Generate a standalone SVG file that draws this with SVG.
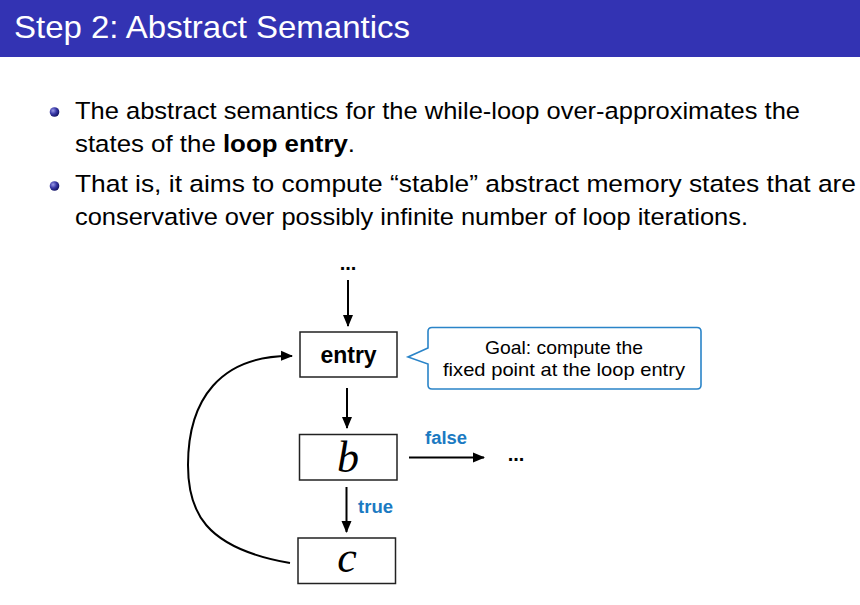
<svg xmlns="http://www.w3.org/2000/svg" width="860" height="605" viewBox="0 0 860 605">
<defs>
<marker id="ah" markerUnits="userSpaceOnUse" markerWidth="12" markerHeight="12" viewBox="0 0 12 12" refX="11" refY="6" orient="auto">
<path d="M0,1 L12,6 L0,11 Z" fill="#000"/>
</marker>
<radialGradient id="ball" cx="0.35" cy="0.35" r="0.7">
<stop offset="0" stop-color="#9a9ae8"/>
<stop offset="0.5" stop-color="#3a3aa8"/>
<stop offset="1" stop-color="#101060"/>
</radialGradient>
</defs>
<style>
.body{font-family:"Liberation Sans",Arial,sans-serif;font-size:24.5px;fill:#000}
.box{fill:#fff;stroke:#222;stroke-width:1.5}
.conn{stroke:#000;stroke-width:2;fill:none}
.lab{font-family:"Liberation Sans",Arial,sans-serif;font-size:18px;font-weight:bold;fill:#1b7ac2}
.math{font-family:"Liberation Serif","Times New Roman",serif;font-style:italic;font-size:44px;fill:#000}
.dots{font-family:"Liberation Sans",Arial,sans-serif;font-size:20px;font-weight:bold;fill:#000}
.note{font-family:"Liberation Sans",Arial,sans-serif;font-size:19px;fill:#000}
</style>
<rect x="0" y="0" width="860" height="57" fill="#3333b3"/>
<text x="14" y="38" font-family="Liberation Sans,Arial,sans-serif" font-size="32" fill="#fff" textLength="396" lengthAdjust="spacingAndGlyphs">Step 2: Abstract Semantics</text>
<circle cx="54.5" cy="112" r="4.8" fill="url(#ball)"/>
<circle cx="54.5" cy="186" r="4.8" fill="url(#ball)"/>
<text class="body" x="75" y="119" textLength="725" lengthAdjust="spacingAndGlyphs">The abstract semantics for the while-loop over-approximates the</text>
<text class="body" x="75" y="152" textLength="280" lengthAdjust="spacingAndGlyphs">states of the <tspan font-weight="bold">loop entry</tspan>.</text>
<text class="body" x="75" y="192" textLength="781" lengthAdjust="spacingAndGlyphs">That is, it aims to compute “stable” abstract memory states that are</text>
<text class="body" x="75" y="225" textLength="673" lengthAdjust="spacingAndGlyphs">conservative over possibly infinite number of loop iterations.</text>
<g id="connectors">
<line class="conn" x1="348" y1="280" x2="348" y2="326" marker-end="url(#ah)"/>
<line class="conn" x1="347" y1="388" x2="347" y2="428" marker-end="url(#ah)"/>
<line class="conn" x1="346.5" y1="487" x2="346.5" y2="532" marker-end="url(#ah)"/>
<line class="conn" x1="409" y1="457.5" x2="484" y2="457.5" marker-end="url(#ah)"/>
<path class="conn" d="M290,563 C203,548 188,510 188,465 C188,400 220,355 292,356" marker-end="url(#ah)"/>
<text class="lab" x="425" y="444" textLength="42" lengthAdjust="spacingAndGlyphs">false</text>
<text class="lab" x="358" y="513" textLength="35" lengthAdjust="spacingAndGlyphs">true</text>
</g>
<text class="dots" x="348" y="270" text-anchor="middle">...</text>
<text class="dots" x="516" y="461" text-anchor="middle">...</text>
<g id="entry">
<rect class="box" x="300" y="332" width="97" height="45"/>
<text x="348.5" y="363" text-anchor="middle" font-family="Liberation Sans,Arial,sans-serif" font-weight="bold" font-size="23">entry</text>
</g>
<g id="b">
<rect class="box" x="299.5" y="434.5" width="97.5" height="45.5"/>
<text class="math" x="348" y="472" text-anchor="middle">b</text>
</g>
<g id="c">
<rect class="box" x="298" y="538" width="97.5" height="45.5"/>
<text class="math" x="347" y="572" text-anchor="middle">c</text>
</g>
<g id="callout">
<path d="M432,327.5 H697 Q701,327.5 701,331.5 V385 Q701,389 697,389 H432 Q428,389 428,385 V364 L408,357 L428,348 V331.5 Q428,327.5 432,327.5 Z" fill="#fff" stroke="#2a84c8" stroke-width="1.6"/>
<text class="note" x="564" y="354" text-anchor="middle" textLength="158" lengthAdjust="spacingAndGlyphs">Goal: compute the</text>
<text class="note" x="564" y="376" text-anchor="middle" textLength="242" lengthAdjust="spacingAndGlyphs">fixed point at the loop entry</text>
</g>
</svg>
